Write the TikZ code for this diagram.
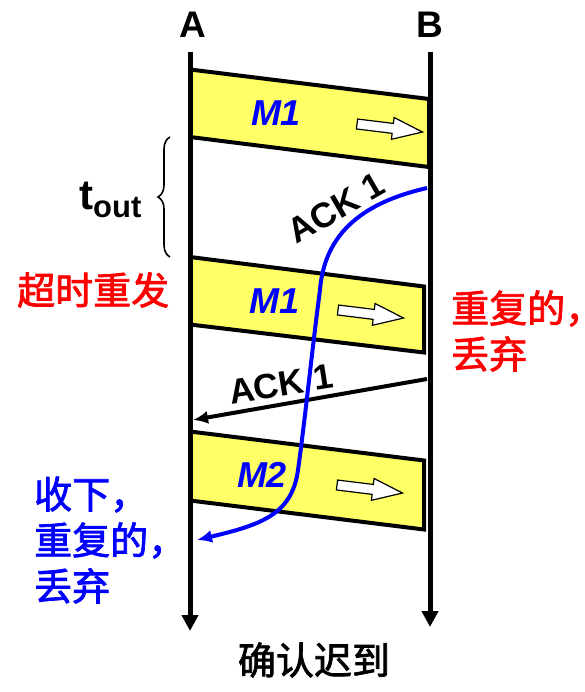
\documentclass[tikz,border=0pt]{standalone}
\usepackage{fontspec}
\setmainfont{Liberation Sans}
\newfontfamily\cjk{Noto Sans CJK SC}[FakeBold=2]
\usetikzlibrary{arrows.meta,decorations.pathreplacing}
\definecolor{boxyellow}{RGB}{255,255,102}
\begin{document}
\begin{tikzpicture}[x=1pt,y=-1pt,
  lifeline/.style={line width=5pt,-{Triangle[width=16pt,length=16pt]}},
  msgbox/.style={draw=black,line width=4pt,fill=boxyellow,line join=miter},
  msglabel/.style={font=\fontsize{36}{36}\selectfont\bfseries\itshape,text=blue,inner sep=0pt},
  endlabel/.style={font=\fontsize{37}{37}\selectfont\bfseries,inner sep=0pt},
  acklabel/.style={font=\fontsize{35}{35}\selectfont\bfseries,inner sep=0pt},
  ackline/.style={line width=4pt,-{Latex[length=15pt,width=13pt]}},
  blueline/.style={line width=4pt,draw=blue,-{Latex[length=15pt,width=13pt]}},
  cjktext/.style={font=\cjk\fontsize{38}{46}\selectfont,inner sep=0pt,align=left},
  hollow/.pic={\draw[line width=1.2pt,fill=white] (0,-5) -- (36,-5) -- (36,-11) -- (66,0) -- (36,11) -- (36,5) -- (0,5) -- cycle;}
]
\path[use as bounding box] (0,0) rectangle (585,692);

% message boxes
\draw[msgbox] (190,69.5) -- (429,99) -- (429,167) -- (190,137) -- cycle;
\draw[msgbox] (190,257) -- (424,286.5) -- (424,352.5) -- (190,324.5) -- cycle;
\draw[msgbox] (190,431.5) -- (424,460.5) -- (424,529.5) -- (190,500.5) -- cycle;

% lifelines
\node[endlabel] (labA) at (193,25) {A};
\node[endlabel] (labB) at (430,25) {B};
\coordinate (Atop) at (190,52);
\coordinate (Abot) at (190,631);
\coordinate (Btop) at (430,52);
\coordinate (Bbot) at (430,627);
\draw[lifeline] (Atop) -- (Abot);
\draw[lifeline] (Btop) -- (Bbot);

% box labels and hollow arrows
\node[msglabel] (m1a) at (276,113) {M1};
\node[msglabel] (m1b) at (275,301) {M1};
\node[msglabel] (m2) at (262,475) {M2};
\pic[rotate=-7] (ha1) at (357,124) {hollow};
\pic[rotate=-7] (ha2) at (338,310) {hollow};
\pic[rotate=-7] (ha3) at (337,485) {hollow};

% ACK on the straight arrow
\coordinate (ack2s) at (427,379);
\coordinate (ack2e) at (193,420);
\draw[ackline] (ack2s) -- (ack2e);
\node[acklabel,rotate=9] (ack2lbl) at (281,384) {ACK 1};

% first ACK label
\node[acklabel,rotate=30] (ack1lbl) at (336,208) {ACK 1};

% timeout brace
\coordinate (brbot) at (170,257);
\coordinate (brtop) at (170,137);
\draw[decorate,decoration={brace,amplitude=12pt},line width=1.6pt] (brbot) -- (brtop);
\node[anchor=base west,inner sep=0pt] (tout) at (79,210)
  {\bfseries\fontsize{42}{42}\selectfont t\raisebox{-8pt}{\bfseries\fontsize{31}{31}\selectfont out}};

% Chinese labels
\node[cjktext,text=red,anchor=west] (resend) at (17,290) {超时重发};
\node[cjktext,text=red,anchor=west] (dupB) at (451,331) {重复的\makebox[0.5em][l]{，}\\丢弃};
\node[cjktext,text=blue,anchor=west] (dupA) at (34,540) {收下，\\重复的，\\丢弃};
\node[cjktext,text=black] (late) at (314,660) {确认迟到};

% blue delayed ACK curve
\coordinate (b0) at (427,188);
\coordinate (b1) at (320,290);
\coordinate (b2) at (298,470);
\coordinate (b3) at (197,540);
\draw[blueline] (b0) .. controls (375,200) and (325,225) .. (b1)
  .. controls (312,350) and (305,420) .. (b2)
  .. controls (292,515) and (260,525) .. (b3);
\end{tikzpicture}
\end{document}
